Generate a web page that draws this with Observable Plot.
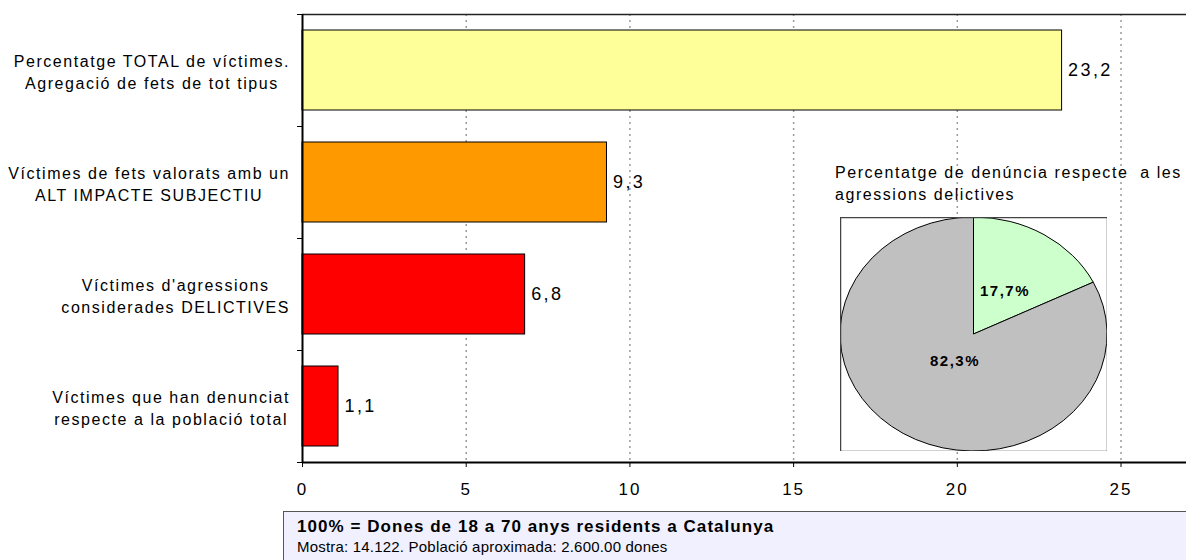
<!DOCTYPE html>
<html>
<head>
<meta charset="utf-8">
<script src="https://cdn.jsdelivr.net/npm/d3@7"></script>
<script src="https://cdn.jsdelivr.net/npm/@observablehq/plot@0.6"></script>
<style>
  html, body { margin: 0; padding: 0; background: #fff; }
  #wrap { position: relative; width: 1186px; height: 560px; overflow: hidden; background: #fff;
          font-family: 'Liberation Sans', Arial, sans-serif; color: #000; }
  #main { position: absolute; left: 0; top: 0; }
  #main svg text { letter-spacing: 1.55px; }
  #main svg g[aria-description="values"] text { letter-spacing: 2.4px; }
  #main svg g[aria-label="x-axis tick label"] text { letter-spacing: 2px; }
  #pieTitle { position: absolute; left: 835px; top: 162px; font-size: 16px; line-height: 22px;
              letter-spacing: 1.55px; white-space: pre; }
  #pie { position: absolute; left: 840px; top: 217px; }
  #pie svg text { letter-spacing: 1.5px; }
  #footer { position: absolute; left: 283px; top: 511px; width: 920px; height: 70px;
            background: #F0F0FF; border: 1px solid #555; box-sizing: border-box; padding: 5px 0 0 13px; }
  #footer .l1 { font-weight: bold; font-size: 17px; line-height: 20px; letter-spacing: 1.05px; }
  #footer .l2 { font-size: 15px; line-height: 20px; letter-spacing: 0.2px; }
</style>
</head>
<body>
<div id="wrap">
  <div id="main"></div>
  <div id="pieTitle"></div>
  <div id="pie"></div>
  <div id="footer"><div class="l1"></div><div class="l2"></div></div>
</div>
<script>
// ---- Data ----
const categories = [
  "Percentatge TOTAL de víctimes.\nAgregació de fets de tot tipus",
  "Víctimes de fets valorats amb un\nALT IMPACTE SUBJECTIU",
  "Víctimes d'agressions\nconsiderades DELICTIVES",
  "Víctimes que han denunciat\nrespecte a la població total"
];
const values = [23.2, 9.3, 6.8, 1.1];
const barColors = ["#FFFF99", "#FF9900", "#FF0000", "#FF0000"];
const xTicks = [0, 5, 10, 15, 20, 25];
const gridTicks = [5, 10, 15, 20, 25];

const pieTitle = "Percentatge de denúncia respecte  a les\nagressions delictives";
const pieNames = ["Denuncien", "No denuncien"];
const pieValues = [17.7, 82.3];
const pieColors = ["#CCFFCC", "#C0C0C0"];

const footerLine1 = "100% = Dones de 18 a 70 anys residents a Catalunya";
const footerLine2 = "Mostra: 14.122. Població aproximada: 2.600.00 dones";

// ---- Helpers ----
const fmt = v => v.toFixed(1).replace(".", ",");
const FONT = "'Liberation Sans', Arial, sans-serif";

const rows = categories.map((c, i) => ({label: c, value: values[i], color: barColors[i], i}));

// ---- Main bar chart ----
const main = Plot.plot({
  width: 1186,
  height: 510,
  marginTop: 14,
  marginBottom: 48,
  marginLeft: 302,
  marginRight: 0,
  style: {fontFamily: FONT, fontSize: "17px", color: "#000", background: "transparent"},
  x: {domain: [0, 27], ticks: xTicks, tickSize: 5, tickPadding: 15, label: null},
  y: {domain: [0, categories.length], reverse: true, ticks: d3.range(categories.length + 1),
      tickSize: 5, tickFormat: () => "", label: null},
  marks: [
    Plot.ruleX(gridTicks, {stroke: "#9a9a9a", strokeWidth: 1.5, strokeDasharray: "2,4"}),
    Plot.rectX(rows, {x1: 0, x2: "value", y1: "i", y2: d => d.i + 1, fill: "color",
                      stroke: "#000", strokeWidth: 1, insetTop: 16, insetBottom: 16}),
    Plot.ruleY([0], {stroke: "#222", strokeWidth: 1.5}),
    Plot.ruleY([categories.length], {stroke: "#000", strokeWidth: 2}),
    Plot.ruleX([0], {stroke: "#000", strokeWidth: 2}),
    Plot.text(rows, {x: "value", y: d => d.i + 0.5, text: d => fmt(d.value),
                     textAnchor: "start", dx: 6, fontSize: 18, ariaDescription: "values"}),
    Plot.text(rows, {x: 0, y: d => d.i + 0.5, text: "label", textAnchor: "middle",
                     lineHeight: 1.375, fontSize: 16, dx: -150, ariaDescription: "labels"})
  ]
});
document.getElementById("main").appendChild(main);

// Right-align each (internally centred) category label block just left of the axis
{
  const axisX = main.scale("x").apply(0);
  const wrapLeft = document.getElementById("wrap").getBoundingClientRect().left;
  d3.select(main).selectAll('g[aria-description="labels"] text').each(function () {
    const r = this.getBoundingClientRect();
    const shift = (axisX - 12) - (r.right - wrapLeft);
    const t = this.getAttribute("transform") || "";
    this.setAttribute("transform", `${t} translate(${shift},0)`);
  });
}

// ---- Pie inset ----
document.getElementById("pieTitle").textContent = pieTitle;
const pieArcs = d3.pie().sort(null).value(d => d)(pieValues);
const pieRows = pieArcs.map((a, i) => ({
  name: pieNames[i], value: pieValues[i], mid: (a.startAngle + a.endAngle) / 2, i
}));
const labelK = i => (i === 0 ? 0.44 : 0.27);
const pie = Plot.plot({
  width: 267,
  height: 234,
  margin: 0,
  x: {domain: [-1, 1], axis: null},
  y: {domain: [-1, 1], axis: null},
  style: {fontFamily: FONT, background: "#fff", color: "#000"},
  marks: [
    (index, scales) => {
      const cx = scales.x(0), cy = scales.y(0);
      const rx = scales.x(1) - cx, ry = cy - scales.y(1);
      const g = d3.create("svg:g").attr("transform", `translate(${cx},${cy}) scale(${rx},${ry})`);
      const arc = d3.arc().innerRadius(0).outerRadius(1);
      g.selectAll("path").data(pieArcs).join("path")
        .attr("d", arc)
        .attr("fill", (d, i) => pieColors[i])
        .attr("stroke", "#000")
        .attr("stroke-width", 1)
        .attr("vector-effect", "non-scaling-stroke");
      return g.node();
    },
    Plot.text(pieRows, {
      x: d => Math.sin(d.mid) * labelK(d.i),
      y: d => Math.cos(d.mid) * labelK(d.i),
      text: d => fmt(d.value) + "%",
      fontWeight: "bold", fontSize: 15
    }),
    Plot.frame({stroke: "#444", strokeWidth: 1.5})
  ]
});
document.getElementById("pie").appendChild(pie);

// ---- Footer ----
document.querySelector("#footer .l1").textContent = footerLine1;
document.querySelector("#footer .l2").textContent = footerLine2;
</script>
</body>
</html>
